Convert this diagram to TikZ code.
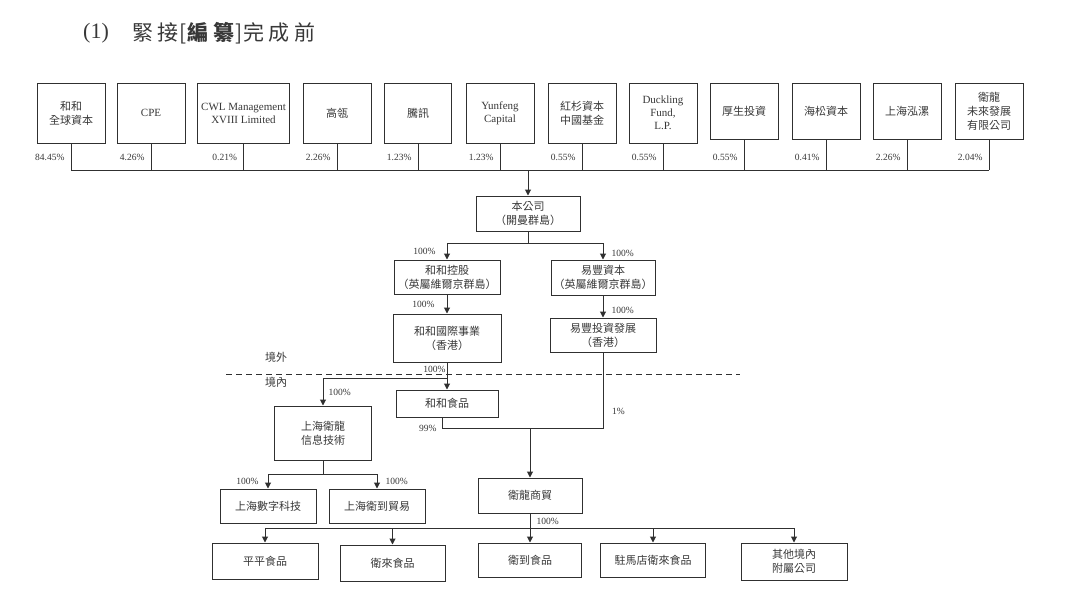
\documentclass[tikz,border=0pt]{standalone}
\usepackage{fontspec}
\setmainfont{Liberation Serif}
\newfontfamily\cjk{Noto Sans CJK TC}
\usepackage[]{xcolor}
\usepackage{tikz}
\usetikzlibrary{arrows.meta}
\definecolor{inkline}{HTML}{303030}
\definecolor{inktext}{HTML}{383838}

\begin{document}
\begin{tikzpicture}[x=1pt,y=-1pt,
    firm/.style={draw=inkline, line width=1pt, inner sep=0pt, align=center,
        text=inktext, font=\cjk\fontsize{11}{14}\selectfont},
    firmen/.style={firm, font=\fontsize{11}{13}\selectfont},
    dims/.style 2 args={minimum width=#1, minimum height=#2},
    note/.style={inner sep=0pt, text=inktext, font=\cjk\fontsize{11}{11}\selectfont},
    pct/.style={inner sep=0pt, text=inktext, font=\fontsize{9.5}{9.5}\selectfont},
    link/.style={draw=inkline, line width=1pt},
    arr/.style={link, -{Triangle[length=6pt,width=6pt]}}]
    \fill[white] (0,0) rectangle (1080,614);
    \useasboundingbox (0,0) rectangle (1080,614);

    \node[anchor=west, inner sep=0pt, text=inktext, font=\fontsize{22}{22}\selectfont] (num) at (83,33) {(1)};
    \node[anchor=west, inner sep=0pt, text=inktext, font=\cjk\fontsize{21}{21}\selectfont] (title) at (132,33)
        {緊\hspace{4.5pt}接\hspace{1pt}[\hspace{1pt}\textbf{編}\hspace{4.5pt}\textbf{纂}\hspace{1pt}]\hspace{1pt}完\hspace{4.5pt}成\hspace{4.5pt}前};

    % shareholders
    \node[firm, dims={68}{60}]   (hhqq) at (71,113)    {和和\\全球資本};
    \node[firmen, dims={68}{60}] (cpe)  at (151,113)   {CPE};
    \node[firmen, dims={92}{60}] (cwl)  at (243.5,113) {CWL Management\\XVIII Limited};
    \node[firm, dims={68}{60}]   (gl)   at (337,113)   {高瓴};
    \node[firm, dims={67}{60}]   (tx)   at (418,113)   {騰訊};
    \node[firmen, dims={68}{60}] (yf)   at (500,113)   {Yunfeng\\Capital};
    \node[firm, dims={68}{60}]   (hs)   at (582,113)   {紅杉資本\\中國基金};
    \node[firmen, dims={68}{60}] (dk)   at (663,113)   {Duckling\\Fund,\\L.P.};
    \node[firm, dims={68}{56}]   (hstz) at (744,111)   {厚生投資};
    \node[firm, dims={68}{56}]   (hszb) at (826,111)   {海松資本};
    \node[firm, dims={68}{56}]   (shhl) at (907,111)   {上海泓漯};
    \node[firm, dims={68}{56}]   (wlwl) at (989,111)   {衛龍\\未來發展\\有限公司};

    \coordinate (bus) at (528,170);
    \draw[link] (hhqq.south) -- (hhqq.south |- bus) node[pct, pos=.52, left=6pt] (p1) {84.45\%};
    \draw[link] (cpe.south)  -- (cpe.south |- bus)  node[pct, pos=.52, left=6pt] (p2) {4.26\%};
    \draw[link] (cwl.south)  -- (cwl.south |- bus)  node[pct, pos=.52, left=6pt] (p3) {0.21\%};
    \draw[link] (gl.south)   -- (gl.south |- bus)   node[pct, pos=.52, left=6pt] (p4) {2.26\%};
    \draw[link] (tx.south)   -- (tx.south |- bus)   node[pct, pos=.52, left=6pt] (p5) {1.23\%};
    \draw[link] (yf.south)   -- (yf.south |- bus)   node[pct, pos=.52, left=6pt] (p6) {1.23\%};
    \draw[link] (hs.south)   -- (hs.south |- bus)   node[pct, pos=.52, left=6pt] (p7) {0.55\%};
    \draw[link] (dk.south)   -- (dk.south |- bus)   node[pct, pos=.52, left=6pt] (p8) {0.55\%};
    \draw[link] (hstz.south) -- (hstz.south |- bus) node[pct, pos=.6, left=6pt] (p9) {0.55\%};
    \draw[link] (hszb.south) -- (hszb.south |- bus) node[pct, pos=.6, left=6pt] (p10) {0.41\%};
    \draw[link] (shhl.south) -- (shhl.south |- bus) node[pct, pos=.6, left=6pt] (p11) {2.26\%};
    \draw[link] (wlwl.south) -- (wlwl.south |- bus) node[pct, pos=.6, left=6pt] (p12) {2.04\%};
    \draw[link] (hhqq.south |- bus) -- (wlwl.south |- bus);

    % offshore
    \node[firm, dims={104}{35}] (co)   at (528,213.5) {本公司\\（開曼群島）};
    \node[firm, dims={106}{34}] (hhkg) at (447,277)   {和和控股\\（英屬維爾京群島）};
    \node[firm, dims={104}{35}] (yfzb) at (603,277.5) {易豐資本\\（英屬維爾京群島）};
    \node[firm, dims={108}{48}] (hhgj) at (447,338)   {和和國際事業\\（香港）};
    \node[firm, dims={106}{34}] (yftz) at (603,335)   {易豐投資發展\\（香港）};
    \draw[arr] (bus) -- (co.north);
    \coordinate (brA) at (528,243);
    \draw[link] (co.south) -- (brA);
    \draw[arr] (brA) -| (hhkg.north) node[pct, pos=.75, left=11pt] (p13) {100\%};
    \draw[arr] (brA) -| (yfzb.north) node[pct, pos=.82, right=8pt] (p14) {100\%};
    \draw[arr] (hhkg) -- (hhgj) node[pct, midway, left=12pt] (p15) {100\%};
    \draw[arr] (yfzb) -- (yftz) node[pct, pos=.68, right=8pt] (p16) {100\%};

    \node[note] (jw) at (276,357) {境外};
    \node[note] (jn) at (276,382) {境內};
    \draw[link, line width=0.8pt, dash pattern=on 6pt off 4pt] (226,374.7) -- (740,374.7);

    % onshore
    \node[firm, dims={102}{27}] (hhsp) at (447,403.5) {和和食品};
    \node[firm, dims={97}{54}]  (shwl) at (323,433)   {上海衛龍\\信息技術};
    \draw[arr] (hhgj) -- (hhsp) node[pct, pos=.25, left=1pt] (p17) {100\%};
    \coordinate (brB) at (447,378);
    \draw[arr] (brB) -| (shwl.north) node[pct, pos=.77, right=5pt] (p18) {100\%};

    \node[firm, dims={96}{34}] (shsz) at (268,506) {上海數字科技};
    \node[firm, dims={96}{34}] (shwd) at (377,506) {上海衛到貿易};
    \coordinate (brC) at (323,474.7);
    \draw[link] (shwl.south) -- (brC);
    \draw[arr] (brC) -| (shsz.north) node[pct, pos=.75, left=9pt] (p19) {100\%};
    \draw[arr] (brC) -| (shwd.north) node[pct, pos=.75, right=8pt] (p20) {100\%};

    \node[firm, dims={104}{35}] (wlsm) at (530,495.5) {衛龍商貿};
    \coordinate (mg) at (530,428);
    \draw[link] ([xshift=-5pt]hhsp.south) |- (yftz.south |- mg) node[pct, pos=.5, left=5pt] (p21) {99\%} -- (yftz.south);
    \node[pct, anchor=west] (p22) at (612,411) {1\%};
    \draw[arr] (mg) -- (wlsm.north);

    \node[firm, dims={106}{36}] (pp)  at (265,561)   {平平食品};
    \node[firm, dims={105}{36}] (wl)  at (392.5,563) {衛來食品};
    \node[firm, dims={103}{34}] (wd)  at (530,560)   {衛到食品};
    \node[firm, dims={105}{34}] (zmd) at (653,560)   {駐馬店衛來食品};
    \node[firm, dims={106}{37}] (qt)  at (794,561.5) {其他境內\\附屬公司};
    \coordinate (brD) at (530,528.7);
    \draw[link] (wlsm.south) -- (brD) node[pct, midway, right=6pt] (p23) {100\%};
    \draw[arr] (brD) -| (pp.north);
    \draw[arr] (brD) -| (wl.north);
    \draw[arr] (brD) -- (wd.north);
    \draw[arr] (brD) -| (zmd.north);
    \draw[arr] (brD) -| (qt.north);
\end{tikzpicture}
\end{document}
